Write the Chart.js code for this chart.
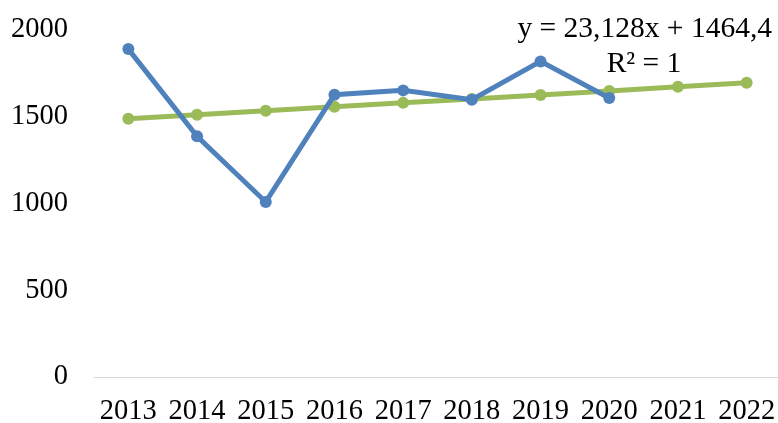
<!DOCTYPE html>
<html>
<head>
<meta charset="utf-8">
<script src="https://cdn.jsdelivr.net/npm/chart.js@4/dist/chart.umd.min.js"></script>
<style>
  html, body { margin: 0; padding: 0; background: #fff; overflow: hidden; }
  #wrap { width: 787px; height: 423px; position: relative; }
</style>
</head>
<body>
<div id="wrap"><canvas id="chart"></canvas></div>
<script>
// data
const years = ["2013", "2014", "2015", "2016", "2017", "2018", "2019", "2020", "2021", "2022"];
const actual = [1890, 1387, 1009, 1627, 1652, 1598, 1819, 1608];
const trend = [1488, 1511, 1534, 1557, 1580, 1603, 1626, 1649, 1673, 1696];
const yTicks = [0, 500, 1000, 1500, 2000];
const trendLabel = ["y = 23,128x + 1464,4", "R\u00b2 = 1"];

const font = "'Liberation Serif', 'Times New Roman', serif";

// trend equation text, top right
const trendText = {
  id: "trendText",
  afterDraw(chart) {
    const ctx = chart.ctx;
    ctx.save();
    ctx.fillStyle = "#000";
    ctx.font = "29.5px " + font;
    ctx.textBaseline = "alphabetic";
    ctx.textAlign = "right";
    ctx.fillText(trendLabel[0], 772, 37);
    ctx.textAlign = "center";
    ctx.fillText(trendLabel[1], 644, 72);
    ctx.restore();
  },
};

new Chart(document.getElementById("chart"), {
  type: "line",
  data: {
    labels: years,
    datasets: [
      {
        label: "actual",
        data: actual,
        borderColor: "#4F81BD",
        backgroundColor: "#4F81BD",
        borderWidth: 5,
        pointRadius: 6,
        pointBorderWidth: 0,
        tension: 0,
      },
      {
        label: "trend",
        data: trend,
        borderColor: "#9BBB59",
        backgroundColor: "#9BBB59",
        borderWidth: 5,
        pointRadius: 6,
        pointBorderWidth: 0,
        tension: 0,
      },
    ],
  },
  options: {
    responsive: true,
    maintainAspectRatio: false,
    animation: false,
    layout: {
      padding: 0,
    },
    plugins: {
      legend: { display: false },
      tooltip: { enabled: false },
    },
    scales: {
      x: {
        offset: true,
        grid: { display: false, drawTicks: false, offset: true },
        border: { display: true, color: "#d9d9d9", width: 1 },
        ticks: {
          color: "#000",
          padding: 20,
          maxRotation: 0,
          autoSkip: false,
          font: { family: font, size: 28.5, lineHeight: 1.0 },
        },
        afterFit(scale) {
          scale.height = 46;
          scale.paddingLeft = 0;
          scale.paddingRight = 0;
        },
      },
      y: {
        min: 0,
        max: 2000,
        afterBuildTicks(axis) {
          axis.ticks = yTicks.map((v) => ({ value: v }));
        },
        grid: { display: false, drawTicks: false },
        border: { display: false },
        ticks: {
          color: "#000",
          padding: 26,
          callback: (v) => String(v),
          font: { family: font, size: 28.5, lineHeight: 1.0 },
        },
        afterFit(scale) {
          scale.width = 94;
          scale.paddingTop = 30;
          scale.paddingBottom = 0;
        },
      },
    },
  },
  plugins: [trendText],
});
</script>
</body>
</html>
